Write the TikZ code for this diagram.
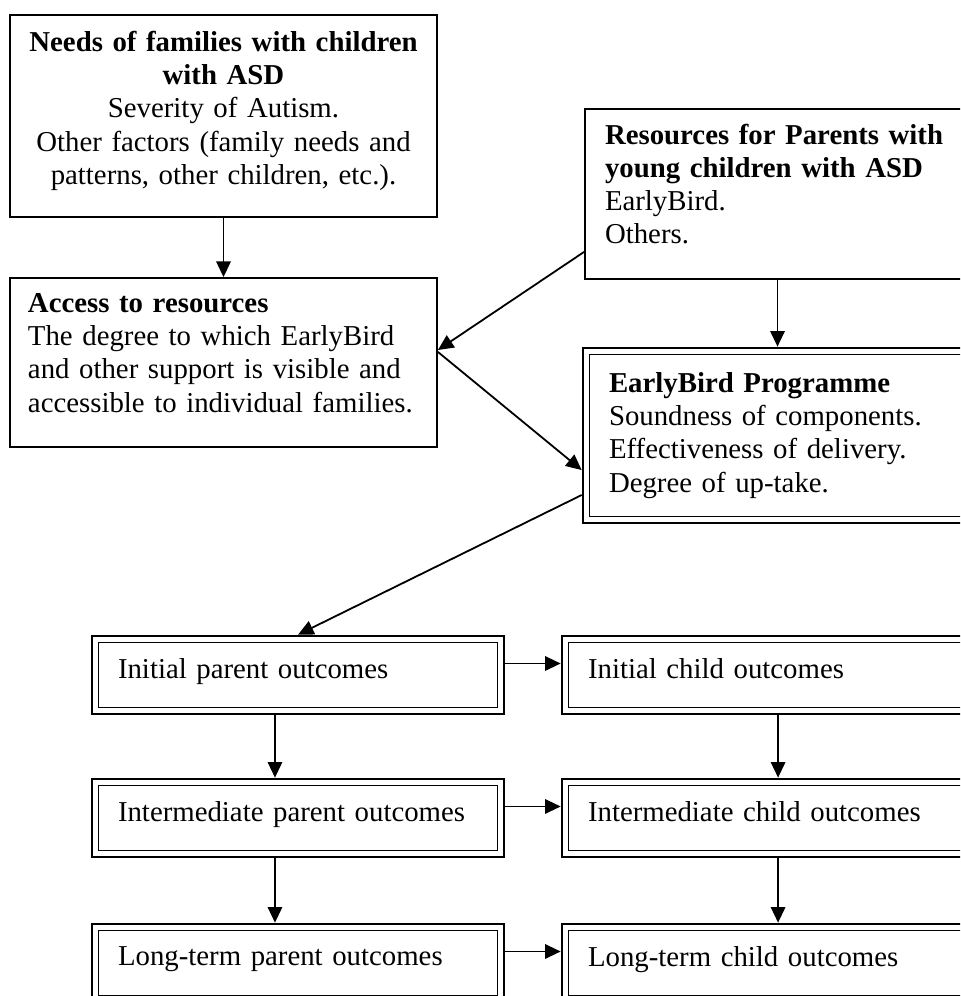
\documentclass[tikz,border=0pt]{standalone}
\usepackage{fontspec}
\setmainfont{Liberation Serif}
\usetikzlibrary{arrows.meta}

\tikzset{
  box/.style={draw, line width=0.75pt, inner ysep=0pt,
    font=\fontsize{12}{13.8}\selectfont},
  dblbox/.style={box, line width=1.1pt,
    path picture={\draw[line width=0.6pt]
      ([shift={(2.6pt,2.6pt)}]path picture bounding box.south west) rectangle
      ([shift={(-2.6pt,-2.6pt)}]path picture bounding box.north east);}},
  outcome/.style={dblbox, align=left, text width=150pt, inner xsep=10.83pt,
    minimum height=32.5pt, execute at end node={\rule[-5.5pt]{0pt}{0pt}}},
  arr/.style={-{Triangle[length=6.5pt,width=6pt]}, line width=0.75pt}
}

\begin{document}
\begin{tikzpicture}[x=0.416667pt, y=-0.416667pt]
  \clip (0,0) rectangle (960,996);

  \node[box, align=center, text width=164.58pt, inner xsep=6.67pt, minimum height=84.17pt] (needs) at (223.5,116)
    {\textbf{Needs of families with children}\\\textbf{with ASD}\\Severity of Autism.\\Other factors (family needs and\\patterns, other children, etc.).\rule[-6.8pt]{0pt}{0pt}};
  \node[box, align=left, text width=143.75pt, inner xsep=8.33pt, minimum height=70.83pt] (res) at (777.5,194)
    {\makebox[143.75pt][s]{\textbf{Resources for Parents with}}\\\textbf{young children with ASD}\\EarlyBird.\\Others.\rule[-8.3pt]{0pt}{0pt}};
  \node[box, align=left, text width=162.92pt, inner xsep=7.5pt, minimum height=70.42pt] (access) at (223.5,362.5)
    {\textbf{Access to resources}\\The degree to which EarlyBird\\and other support is visible and\\accessible to individual families.\rule[-8pt]{0pt}{0pt}};
  \node[dblbox, align=left, text width=141.67pt, inner xsep=10.83pt, minimum height=72.92pt] (prog) at (779,435.5)
    {\textbf{EarlyBird Programme}\\Soundness of components.\\Effectiveness of delivery.\\Degree of up-take.};

  % outcomes
  \node[outcome] (ipar) at (298,675) {Initial parent outcomes};
  \node[outcome] (ichi) at (768,675) {Initial child outcomes};
  \node[outcome] (mpar) at (298,818) {Intermediate parent outcomes};
  \node[outcome] (mchi) at (768,818) {Intermediate child outcomes};
  \node[outcome] (lpar) at (298,963) {Long-term parent outcomes};
  \node[outcome] (lchi) at (768,963) {Long-term child outcomes};

  \draw[arr] (needs.south) -- (access.north);
  \draw[arr] (res.south) -- (res.south |- prog.north);
  \draw[arr] ([yshift=11.67pt]res.south west) -- ([yshift=5.2pt]access.east);
  \draw[arr] ([yshift=4.4pt]access.east) -- ([yshift=-14.4pt]prog.west);
  \draw[arr] ([yshift=-24.8pt]prog.west) -- (ipar.north);

  \draw[arr] ([yshift=4.8pt]ipar.east) -- ([yshift=4.8pt]ichi.west);
  \draw[arr] ([yshift=4.8pt]mpar.east) -- ([yshift=4.8pt]mchi.west);
  \draw[arr] ([yshift=4.8pt]lpar.east) -- ([yshift=4.8pt]lchi.west);
  \draw[arr] ([xshift=-9.6pt]ipar.south) -- ([xshift=-9.6pt]mpar.north);
  \draw[arr] ([xshift=-9.6pt]mpar.south) -- ([xshift=-9.6pt]lpar.north);
  \draw[arr] ([xshift=4.2pt]ichi.south) -- ([xshift=4.2pt]mchi.north);
  \draw[arr] ([xshift=4.2pt]mchi.south) -- ([xshift=4.2pt]lchi.north);
\end{tikzpicture}
\end{document}
